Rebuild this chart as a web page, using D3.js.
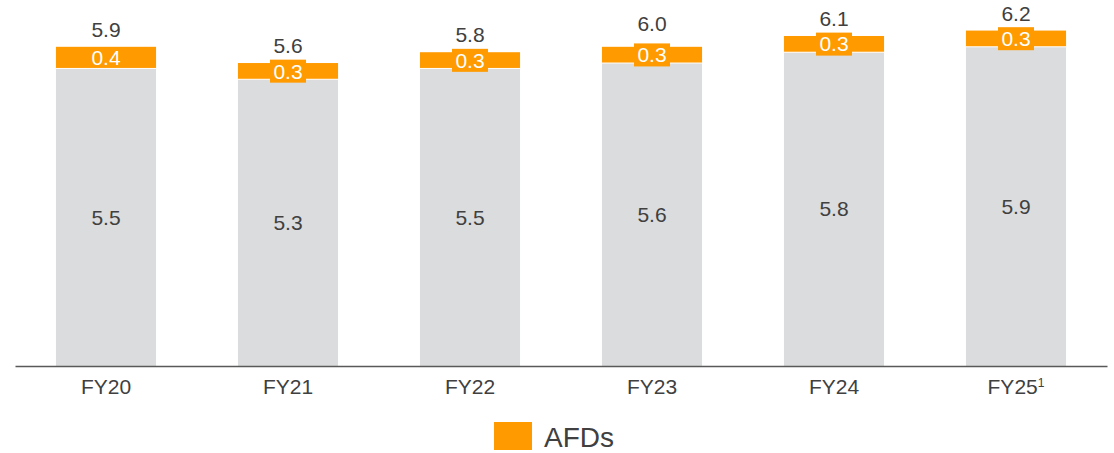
<!DOCTYPE html>
<html>
<head>
<meta charset="utf-8">
<script src="https://cdn.jsdelivr.net/npm/d3@7"></script>
<style>
  html, body { margin: 0; padding: 0; background: #ffffff; }
  svg { display: block; font-family: "Liberation Sans", Arial, sans-serif; }
</style>
</head>
<body>
<svg id="chart" width="1114" height="453"></svg>
<script>
// Fiscal years on the x axis
const categories = ["FY20", "FY21", "FY22", "FY23", "FY24", "FY25"];
// Footnote markers attached to some category labels
const footnotes = ["", "", "", "", "", "1"];
// Base (grey) segment values
const baseValues = [5.5, 5.3, 5.5, 5.6, 5.8, 5.9];
// AFDs (orange) segment values
const afdValues = [0.4, 0.3, 0.3, 0.3, 0.3, 0.3];
// Totals printed above each bar
const totalValues = [5.9, 5.6, 5.8, 6.0, 6.1, 6.2];
const legendLabel = "AFDs";

const colors = { base: "#dbdcdd", afd: "#ff9a00", text: "#404040", axis: "#595959" };
const fontSize = 21;

const svg = d3.select("#chart");
const baseline = 366;

const x = d3.scaleBand()
  .domain(categories)
  .range([15, 1107])
  .paddingInner(0.45)
  .paddingOuter(0.225);

const y = d3.scaleLinear()
  .domain([0, 6.2])
  .range([baseline, baseline - 6.2 * 54.1]);

const rows = categories.map((c, i) => ({
  cat: c, note: footnotes[i], base: baseValues[i], afd: afdValues[i], total: totalValues[i]
}));

const g = svg.append("g");

// grey base segments
g.selectAll("rect.base").data(rows).join("rect")
  .attr("class", "base")
  .attr("x", d => x(d.cat))
  .attr("width", x.bandwidth())
  .attr("y", d => y(d.base))
  .attr("height", d => y(0) - y(d.base))
  .attr("fill", colors.base);

// orange AFD segments stacked on top
g.selectAll("rect.afd").data(rows).join("rect")
  .attr("class", "afd")
  .attr("x", d => x(d.cat))
  .attr("width", x.bandwidth())
  .attr("y", d => y(d.base + d.afd))
  .attr("height", d => y(d.base) - y(d.base + d.afd))
  .attr("fill", colors.afd);

// thin white separator between segments
g.selectAll("line.sep").data(rows).join("line")
  .attr("class", "sep")
  .attr("x1", d => x(d.cat))
  .attr("x2", d => x(d.cat) + x.bandwidth())
  .attr("y1", d => y(d.base))
  .attr("y2", d => y(d.base))
  .attr("stroke", "#ffffff")
  .attr("stroke-width", 1);

// value labels inside grey segments
g.selectAll("text.baseLbl").data(rows).join("text")
  .attr("class", "baseLbl")
  .attr("x", d => x(d.cat) + x.bandwidth() / 2)
  .attr("y", d => (y(0) + y(d.base)) / 2)
  .attr("dy", "0.35em")
  .attr("text-anchor", "middle")
  .attr("font-size", fontSize)
  .attr("fill", colors.text)
  .text(d => d.base.toFixed(1));

// AFD labels: thin segments get an orange label box behind the text
const afdLbl = g.selectAll("g.afdLbl").data(rows).join("g")
  .attr("class", "afdLbl")
  .attr("transform", d => `translate(${x(d.cat) + x.bandwidth() / 2},${(y(d.base) + y(d.base + d.afd)) / 2})`);

afdLbl.filter(d => (y(d.base) - y(d.base + d.afd)) < 21)
  .append("rect")
  .attr("x", -18).attr("y", -11.5)
  .attr("width", 36).attr("height", 23)
  .attr("fill", colors.afd);

afdLbl.append("text")
  .attr("dy", "0.35em")
  .attr("text-anchor", "middle")
  .attr("font-size", fontSize)
  .attr("fill", "#ffffff")
  .text(d => d.afd.toFixed(1));

// totals above bars
g.selectAll("text.total").data(rows).join("text")
  .attr("class", "total")
  .attr("x", d => x(d.cat) + x.bandwidth() / 2)
  .attr("y", d => y(d.total) - 10)
  .attr("text-anchor", "middle")
  .attr("font-size", fontSize)
  .attr("fill", colors.text)
  .text(d => d.total.toFixed(1));

// x axis
const axis = svg.append("g")
  .attr("transform", `translate(0,${baseline})`)
  .call(d3.axisBottom(x).tickSize(0).tickPadding(0).tickFormat(""));
axis.select(".domain")
  .attr("stroke", colors.axis)
  .attr("stroke-width", 1.5);

const tickLbl = svg.selectAll("text.cat").data(rows).join("text")
  .attr("class", "cat")
  .attr("x", d => x(d.cat) + x.bandwidth() / 2)
  .attr("y", baseline + 28)
  .attr("text-anchor", "middle")
  .attr("font-size", fontSize)
  .attr("fill", colors.text);
tickLbl.append("tspan").text(d => d.cat);
tickLbl.filter(d => d.note).append("tspan")
  .attr("font-size", 12)
  .attr("dy", -7)
  .text(d => d.note);

// legend
const legend = svg.append("g").attr("transform", "translate(494,422)");
legend.append("rect").attr("width", 38).attr("height", 28).attr("fill", colors.afd);
legend.append("text")
  .attr("x", 50).attr("y", 25)
  .attr("font-size", 28)
  .attr("fill", colors.text)
  .text(legendLabel);
</script>
</body>
</html>
